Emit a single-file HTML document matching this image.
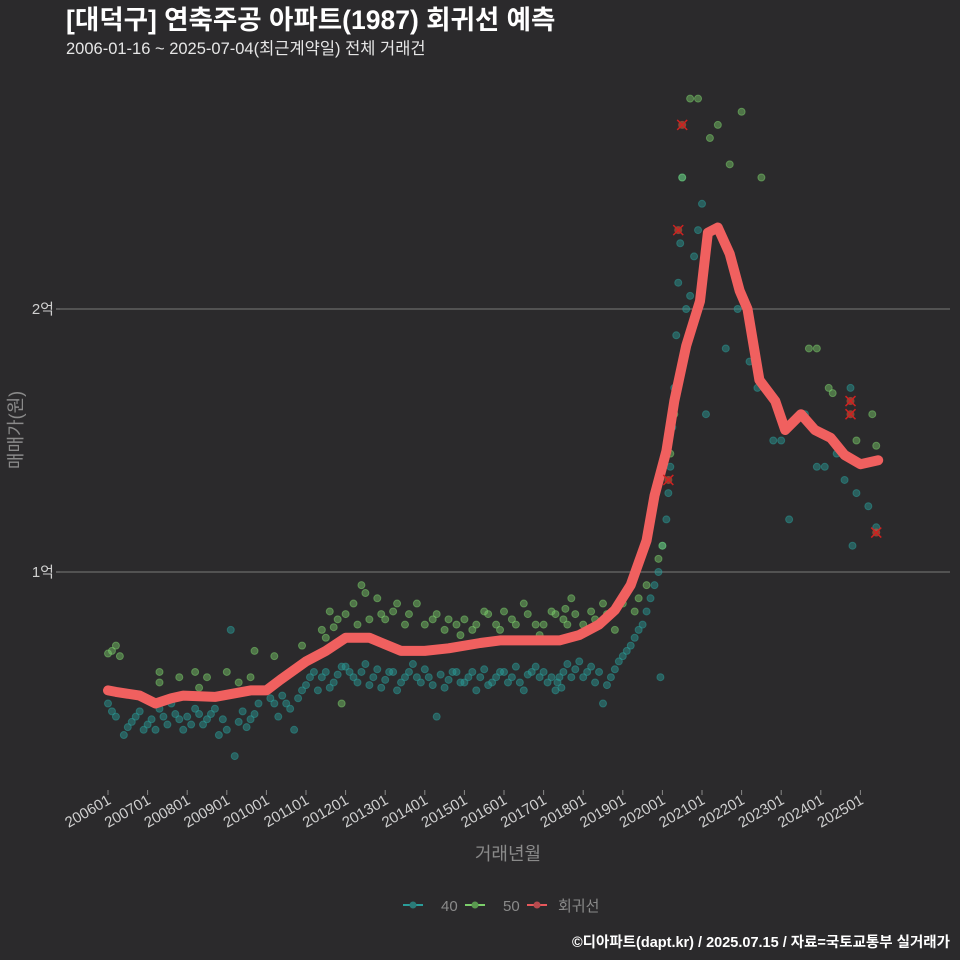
<!DOCTYPE html>
<html><head><meta charset="utf-8">
<style>
html,body{margin:0;padding:0;background:#2b2a2c;}
svg{display:block;font-family:"Liberation Sans","Noto Sans CJK KR",sans-serif;}
</style></head>
<body>
<svg id="chart" width="960" height="960" viewBox="0 0 960 960">
<rect width="960" height="960" fill="#2b2a2c"/>
<text x="66" y="29" fill="#ffffff" font-size="26.5" font-weight="bold">[대덕구] 연축주공 아파트(1987) 회귀선 예측</text>
<text x="66" y="54" fill="#e6e6e6" font-size="16.5">2006-01-16 ~ 2025-07-04(최근계약일) 전체 거래건</text>
<g id="grid"></g>
<g id="yaxis"></g>
<g id="pts40"></g>
<g id="pts50"></g>
<g id="reg"></g>
<g id="xmarks"></g>
<g id="xaxis"></g>
<text x="508" y="860" fill="#8a8a8a" font-size="18" text-anchor="middle">거래년월</text>
<text transform="translate(22,430) rotate(-90)" fill="#8a8a8a" font-size="18" text-anchor="middle">매매가(원)</text>
<g>
 <g>
  <line x1="403" y1="905" x2="423" y2="905" stroke="#2a9d9a" stroke-width="2"/><circle cx="413" cy="905" r="3.5" fill="#2a7a78"/>
  <text x="441" y="911" fill="#8a8a8a" font-size="15">40</text></g>
 <g>
  <line x1="465" y1="905" x2="485" y2="905" stroke="#7ccf6b" stroke-width="2"/><circle cx="475" cy="905" r="3.5" fill="#5a9a50"/>
  <text x="503" y="911" fill="#8a8a8a" font-size="15">50</text></g>
 <g>
  <line x1="527" y1="905" x2="547" y2="905" stroke="#e8585c" stroke-width="2"/><circle cx="537" cy="905" r="3.5" fill="#b84a4e"/>
  <text x="558" y="911" fill="#8a8a8a" font-size="15">회귀선</text></g>
</g>
<text x="950" y="947" fill="#ffffff" font-size="14.5" font-weight="bold" text-anchor="end">©디아파트(dapt.kr) / 2025.07.15 / 자료=국토교통부 실거래가</text>
</svg>
<script>
const xTickLabels=["200601","200701","200801","200901","201001","201101","201201","201301","201401","201501","201601","201701","201801","201901","202001","202101","202201","202301","202401","202501"];
const yTickValues=[1,2];
const yTickLabels=["1억","2억"];
const series40=[[2006.0,0.50],[2006.2,0.45],[2006.4,0.38],[2006.6,0.43],[2006.8,0.47],[2006.9,0.40],
[2007.1,0.44],[2007.3,0.48],[2007.5,0.42],[2007.7,0.46],[2007.9,0.40],[2007.6,0.50],
[2008.0,0.45],[2008.2,0.48],[2008.4,0.42],[2008.6,0.46],[2008.8,0.38],[2008.9,0.44],
[2009.0,0.40],[2009.2,0.30],[2009.4,0.47],[2009.6,0.44],[2009.8,0.50],[2009.1,0.78],
[2010.1,0.52],[2010.3,0.45],[2010.5,0.50],[2010.7,0.40],[2010.9,0.55],
[2011.1,0.60],[2011.3,0.55],[2011.5,0.62],[2011.7,0.58],[2011.9,0.64],
[2012.1,0.62],[2012.3,0.58],[2012.5,0.65],[2012.7,0.60],[2012.9,0.56],
[2013.1,0.62],[2013.3,0.55],[2013.5,0.60],[2013.7,0.65],[2013.9,0.58],
[2014.1,0.60],[2014.3,0.45],[2014.5,0.56],[2014.7,0.62],[2014.9,0.58],
[2015.1,0.60],[2015.3,0.55],[2015.5,0.63],[2015.7,0.58],[2015.9,0.62],
[2016.1,0.58],[2016.3,0.64],[2016.5,0.55],[2016.7,0.62],[2016.9,0.60],
[2017.1,0.58],[2017.3,0.55],[2017.4,0.60],[2017.6,0.65],[2017.8,0.63],
[2018.1,0.62],[2018.3,0.58],[2018.5,0.50],[2018.7,0.60],[2018.9,0.66],
[2019.1,0.70],[2019.3,0.75],[2019.5,0.80],[2019.7,0.90],[2019.9,1.00],[2019.95,0.60],
[2020.1,1.20],[2020.2,1.40],[2020.3,1.70],[2020.4,2.10],[2020.5,2.50],[2020.6,2.00],[2020.8,2.20],
[2021.0,2.40],[2021.1,1.60],[2021.3,2.30],[2021.6,1.85],[2021.9,2.00],
[2022.2,1.80],[2022.4,1.70],[2022.8,1.50],
[2023.0,1.50],[2023.2,1.20],[2023.6,1.60],[2023.9,1.40],
[2024.1,1.40],[2024.4,1.45],[2024.6,1.35],[2024.75,1.70],[2024.8,1.10],[2024.9,1.30],
[2025.2,1.25],[2025.4,1.17],
[2006.1,0.47],[2006.5,0.41],[2006.7,0.45],[2007.0,0.42],[2007.2,0.40],[2007.4,0.45],[2007.8,0.44],[2008.1,0.42],[2008.3,0.46],[2008.5,0.44],[2008.7,0.48],[2009.3,0.43],[2009.5,0.41],[2009.7,0.46],
[2010.2,0.50],[2010.4,0.53],[2010.6,0.48],[2010.8,0.52],[2011.0,0.57],[2011.2,0.62],[2011.4,0.60],[2011.6,0.56],[2011.8,0.61],[2012.0,0.64],[2012.2,0.60],[2012.4,0.62],[2012.6,0.57],[2012.8,0.63],[2013.0,0.59],[2013.2,0.62],[2013.4,0.58],[2013.6,0.62],[2013.8,0.60],[2014.0,0.63],[2014.2,0.57],[2014.4,0.61],[2014.6,0.59],[2014.8,0.62],[2015.0,0.58],[2015.2,0.62],[2015.4,0.60],[2015.6,0.57],[2015.8,0.60],[2016.0,0.62],[2016.2,0.60],[2016.4,0.58],[2016.6,0.61],[2016.8,0.64],[2017.0,0.62],[2017.2,0.60],[2017.35,0.58],[2017.45,0.56],[2017.5,0.62],[2017.7,0.60],[2017.9,0.66],[2018.0,0.60],[2018.2,0.64],[2018.4,0.62],[2018.6,0.57],[2018.8,0.63],[2019.0,0.68],[2019.2,0.72],[2019.4,0.78],[2019.6,0.85],[2019.8,0.95],[2020.0,1.10],[2020.15,1.30],[2020.25,1.55],[2020.35,1.90],[2020.45,2.25],[2020.7,2.05],[2020.9,2.30]];
const series50=[[2006.0,0.69],[2006.1,0.70],[2006.3,0.68],[2006.2,0.72],[2007.3,0.62],[2007.3,0.58],[2007.8,0.60],[2008.2,0.62],[2008.5,0.60],[2008.3,0.56],[2009.0,0.62],[2009.3,0.58],[2009.6,0.60],[2009.7,0.70],[2010.2,0.68],[2010.9,0.72],[2011.4,0.78],[2011.6,0.85],[2011.8,0.82],[2011.9,0.50],[2012.2,0.88],[2012.4,0.95],[2012.6,0.82],[2012.8,0.90],[2013.2,0.85],[2013.5,0.80],[2013.8,0.88],[2014.2,0.82],[2014.5,0.78],[2014.8,0.80],[2015.2,0.78],[2015.5,0.85],[2015.8,0.80],[2016.2,0.82],[2016.5,0.88],[2016.8,0.80],[2017.2,0.85],[2017.5,0.82],[2017.7,0.90],[2018.2,0.85],[2018.5,0.88],[2018.8,0.78],[2019.3,0.85],[2019.6,0.95],[2019.9,1.05],[2020.0,1.10],[2020.2,1.45],[2020.3,1.60],[2020.5,2.50],[2020.7,2.80],[2020.9,2.80],[2021.2,2.65],[2021.4,2.70],[2021.7,2.55],[2022.0,2.75],[2022.5,2.50],[2023.7,1.85],[2023.9,1.85],[2024.2,1.70],[2024.3,1.68],[2024.9,1.50],[2025.3,1.60],[2025.4,1.48],
[2011.5,0.75],[2011.7,0.79],[2012.0,0.84],[2012.3,0.80],[2012.5,0.92],[2012.9,0.84],[2013.0,0.82],[2013.3,0.88],[2013.6,0.84],[2014.0,0.80],[2014.3,0.84],[2014.6,0.82],[2014.9,0.76],[2015.0,0.82],[2015.3,0.80],[2015.6,0.84],[2015.9,0.78],[2016.0,0.85],[2016.3,0.80],[2016.6,0.84],[2016.9,0.76],[2017.0,0.80],[2017.3,0.84],[2017.55,0.86],[2017.6,0.80],[2017.8,0.84],[2018.0,0.80],[2018.3,0.82],[2018.6,0.84],[2019.0,0.88],[2019.4,0.90]];
const regYears=[2006.0,2006.2,2006.8,2007.2,2007.6,2007.9,2008.7,2009.6,2010.0,2010.35,2011.0,2011.5,2012.0,2012.6,2013.4,2014.0,2014.6,2015.4,2015.9,2016.4,2016.9,2017.4,2017.9,2018.4,2018.8,2019.2,2019.6,2019.8,2020.1,2020.3,2020.6,2020.95,2021.15,2021.4,2021.7,2021.95,2022.15,2022.45,2022.85,2023.1,2023.5,2023.85,2024.25,2024.6,2025.0,2025.45];
const regValues=[0.55,0.544,0.53,0.50,0.52,0.53,0.525,0.55,0.55,0.59,0.66,0.70,0.75,0.75,0.70,0.70,0.71,0.73,0.74,0.74,0.74,0.74,0.76,0.80,0.855,0.95,1.12,1.29,1.46,1.65,1.86,2.03,2.29,2.31,2.21,2.07,2.00,1.73,1.65,1.54,1.60,1.54,1.51,1.445,1.41,1.425];
const predYears=[2020.5,2020.4,2020.15,2024.75,2024.75,2025.4];
const predValues=[2.70,2.30,1.35,1.65,1.60,1.15];

const NS="http://www.w3.org/2000/svg";
const xS=y=>108+(y-2006)*39.6;
const yS=v=>572-(v-1)*263;
function mk(tag,attrs,parent){const e=document.createElementNS(NS,tag);for(const k in attrs)e.setAttribute(k,attrs[k]);parent.appendChild(e);return e;}

const grid=document.getElementById('grid'),yax=document.getElementById('yaxis');
yTickValues.forEach((v,i)=>{
  const l=mk('line',{x1:60,x2:950,y1:yS(v),y2:yS(v),stroke:'#6a6a6a','stroke-width':1.2},grid);
  
  
  mk('line',{x1:56,x2:60,y1:yS(v),y2:yS(v),stroke:'#888'},yax);
  const t=mk('text',{x:54,y:yS(v)+5,fill:'#cfcfcf','font-size':15,'text-anchor':'end'},yax);
  t.textContent=yTickLabels[i];
  
  
});
const xax=document.getElementById('xaxis');
xTickLabels.forEach((s,i)=>{
  const x=xS(2006+i);
  mk('line',{x1:x,x2:x,y1:790,y2:795,stroke:'#888'},xax);
  const t=mk('text',{transform:`translate(${x+4},${803}) rotate(-30)`,fill:'#cfcfcf','font-size':15,'text-anchor':'end'},xax);
  t.textContent=s;
  
  
});
function dots(arr,gid,fill,stroke){
  const g=document.getElementById(gid);
  arr.forEach(p=>{
    const c=mk('circle',{cx:xS(p[0]),cy:yS(p[1]),r:3.5,fill:fill,'fill-opacity':0.45,stroke:stroke,'stroke-opacity':0.5},g);
    
    
  });
}
dots(series40,'pts40','#2a9d9a','#2a9d9a');
dots(series50,'pts50','#7ccf6b','#7ccf6b');
const reg=document.getElementById('reg');
const d=regYears.map((y,i)=>(i?'L':'M')+xS(y).toFixed(1)+','+yS(regValues[i]).toFixed(1)).join(' ');
const path=mk('path',{d:d,fill:'none',stroke:'#f0605f','stroke-width':10,'stroke-linejoin':'round','stroke-linecap':'round'},reg);


const xm=document.getElementById('xmarks');
predYears.forEach((y,i)=>{
  const cx=xS(y),cy=yS(predValues[i]);
  const g=mk('g',{},xm);
  
  
  mk('circle',{cx:cx,cy:cy,r:4,fill:'#c85a3a','fill-opacity':0.6},g);
  mk('path',{d:`M${cx-5},${cy-5}L${cx+5},${cy+5}M${cx-5},${cy+5}L${cx+5},${cy-5}`,stroke:'#d02020','stroke-width':1.5},g);
});
</script>
</body></html>
